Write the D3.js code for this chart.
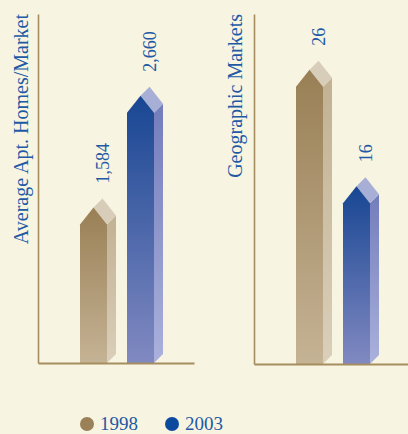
<!DOCTYPE html>
<html>
<head>
<meta charset="utf-8">
<script src="https://cdn.jsdelivr.net/npm/d3@7"></script>
<style>
  html, body { margin: 0; padding: 0; background: #f7f4e1; }
  svg { display: block; }
  text { font-family: "Liberation Serif", "DejaVu Serif", serif; fill: #2159a5; }
</style>
</head>
<body>
<svg id="chart" width="408" height="434"></svg>
<script>
// ---- data ----
const years = ["1998", "2003"];
const homesValues = [1584, 2660];
const homesLabels = ["1,584", "2,660"];
const marketValues = [26, 16];
const marketLabels = ["26", "16"];
const panelTitles = ["Average Apt. Homes/Market", "Geographic Markets"];

const svg = d3.select("#chart");
const W = 408, H = 434;
svg.append("rect").attr("width", W).attr("height", H).attr("fill", "#f7f4e1");

const defs = svg.append("defs");
function grad(id, top, bottom) {
  const g = defs.append("linearGradient").attr("id", id)
    .attr("x1", 0).attr("y1", 0).attr("x2", 0).attr("y2", 1);
  g.append("stop").attr("offset", "0%").attr("stop-color", top);
  g.append("stop").attr("offset", "100%").attr("stop-color", bottom);
}
grad("tanFront", "#997f55", "#c5b395");
grad("tanSide", "#c2b193", "#dacfba");
grad("blueFront", "#184693", "#8189c1");
grad("blueSide", "#737dbb", "#aab1dc");

const styles = {
  "1998": { front: "url(#tanFront)", side: "url(#tanSide)", cap: "#d8cdb8" },
  "2003": { front: "url(#blueFront)", side: "url(#blueSide)", cap: "#a8afd7" }
};

const DX = 9, DY = -9, GABLE = 17;

function panel(axisX, baseY, topY, rightX, maxV, values, labels, title, titleX) {
  const y = d3.scaleLinear().domain([0, maxV]).range([baseY, topY]);
  const x = d3.scaleBand().domain(years)
    .range([axisX + 42, axisX + 42 + 47 * 2 - 20])
    .paddingInner(20 / 47).paddingOuter(0);
  const xl = d3.scaleLinear().domain([0, 1]).range([axisX, rightX]);

  const g = svg.append("g");

  years.forEach((yr, i) => {
    const v = values[i];
    const x0 = x(yr), w = x.bandwidth();
    const apexY = y(v);
    const ridgeY = apexY - DY;
    const cornerY = ridgeY + GABLE;
    const st = styles[yr];
    g.append("path")
      .attr("d", `M${x0 + w},${cornerY} L${x0 + w + DX},${cornerY + DY} L${x0 + w + DX},${baseY + DY} L${x0 + w},${baseY} Z`)
      .attr("fill", st.side);
    g.append("path")
      .attr("d", `M${x0 + w / 2},${ridgeY} L${x0 + w / 2 + DX},${ridgeY + DY} L${x0 + w + DX},${cornerY + DY} L${x0 + w},${cornerY} Z`)
      .attr("fill", st.cap);
    g.append("path")
      .attr("d", `M${x0},${baseY} L${x0},${cornerY} L${x0 + w / 2},${ridgeY} L${x0 + w},${cornerY} L${x0 + w},${baseY} Z`)
      .attr("fill", st.front);
    const lx = x0 + w / 2 + DX + 6, ly = apexY - 15;
    g.append("text")
      .attr("transform", `translate(${lx},${ly}) rotate(-90)`)
      .attr("text-anchor", "start")
      .attr("font-size", 18)
      .text(labels[i]);
  });

  const yAxis = d3.axisLeft(y).tickValues([]).tickSizeOuter(0);
  g.append("g").attr("transform", `translate(${axisX},0)`).call(yAxis)
    .select(".domain").attr("stroke", "#a58d60").attr("stroke-width", 1.6);
  const xAxis = d3.axisBottom(xl).tickValues([]).tickSizeOuter(0);
  g.append("g").attr("transform", `translate(0,${baseY})`).call(xAxis)
    .select(".domain").attr("stroke", "#a58d60").attr("stroke-width", 2);

  g.append("text")
    .attr("transform", `translate(${titleX},${topY}) rotate(-90)`)
    .attr("text-anchor", "end")
    .attr("font-size", 20)
    .text(title);
}

panel(38, 363, 14, 194, 3360, homesValues, homesLabels, panelTitles[0], 28);
panel(254, 364, 14, 410, 30, marketValues, marketLabels, panelTitles[1], 242);

// legend
const legendColors = ["#9b8157", "#0b4a9d"];
const legendX = [87, 172];
years.forEach((yr, i) => {
  svg.append("circle").attr("cx", legendX[i]).attr("cy", 424).attr("r", 7)
    .attr("fill", legendColors[i]);
  svg.append("text").attr("x", legendX[i] + 13).attr("y", 429.5)
    .attr("font-size", 19).text(yr);
});
</script>
</body>
</html>
